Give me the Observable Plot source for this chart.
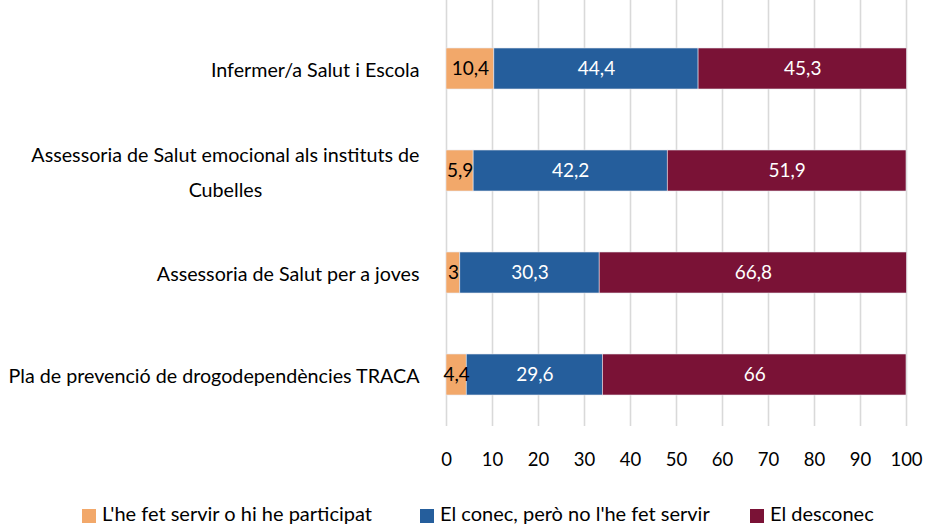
<!DOCTYPE html>
<html><head><meta charset="utf-8">
<script src="https://cdn.jsdelivr.net/npm/d3@7"></script>
<script src="https://cdn.jsdelivr.net/npm/@observablehq/plot@0.6"></script>
<style>
body{margin:0;background:#fff;font-family:Lato,"Open Sans",sans-serif;}
#wrap{position:relative;width:925px;height:527px;overflow:hidden;}
.leg{position:absolute;top:502px;height:22px;line-height:22px;display:flex;align-items:center;font-size:20px;color:#000;white-space:nowrap;}
.sw{width:14px;height:14px;margin-right:6px;margin-top:5px;}
</style></head>
<body><div id="wrap"><div id="chart"></div></div>
<script>
const categories = ["Infermer/a Salut i Escola","Assessoria de Salut emocional als instituts de\nCubelles","Assessoria de Salut per a joves","Pla de prevenció de drogodependències TRACA"];
const series = ["L'he fet servir o hi he participat","El conec, però no l'he fet servir","El desconec"];
const used = [10.4, 5.9, 3, 4.4];
const known = [44.4, 42.2, 30.3, 29.6];
const unknown = [45.3, 51.9, 66.8, 66];
const xTicks = [0,10,20,30,40,50,60,70,80,90,100];
const colors = ["#F2A86A","#255E9C","#7A1236"];
const textColors = ["#000","#fff","#fff"];

const data = [];
[used, known, unknown].forEach((arr, si) => arr.forEach((v, ci) => data.push({cat: categories[ci], series: series[si], si, value: v})));
const fmt = v => String(v).replace(".", ",");

const chart = Plot.plot({
  width: 925, height: 490,
  marginLeft: 446, marginRight: 19, marginTop: 0, marginBottom: 64,
  style: {fontFamily: "Lato, 'Open Sans', sans-serif", fontSize: "18.5px", color: "#000", overflow: "visible"},
  x: {domain: [0, 100], ticks: xTicks, tickSize: 0, tickPadding: 26, label: null, tickFormat: d => d},
  y: {domain: categories, padding: 0.6, paddingOuter: 0.3, insetTop: 16, insetBottom: 0, label: null, axis: null},
  color: {domain: series, range: colors},
  marks: [
    Plot.ruleX(xTicks, {stroke: "#d9d9d9", strokeWidth: 1.6}),
    Plot.barX(data, {x: "value", y: "cat", fill: "series", stroke: "#e8e8ef", strokeWidth: 0.6, order: "si"}),
    Plot.text(data, Plot.stackX({x: "value", y: "cat", z: "series", order: "si", text: d => fmt(d.value), fill: d => textColors[d.si], fontSize: 19})),
    Plot.text(categories, {y: d => d, frameAnchor: "left", dx: -27, dy: -3, textAnchor: "end", text: d => d, fontSize: 19.7, lineHeight: 1.8, fill: "#000"})
  ]
});
document.getElementById("chart").appendChild(chart);

// center the lines of the wrapped label as a block
chart.querySelectorAll("text").forEach(t => {
  const tspans = t.querySelectorAll("tspan");
  if (tspans.length > 1) {
    const w = tspans[0].getComputedTextLength();
    t.setAttribute("text-anchor", "middle");
    const tr = t.getAttribute("transform");
    t.setAttribute("transform", (tr || "") + ` translate(${-w/2},0)`);
  }
});

const legX = [82, 420, 750];
series.forEach((s, i) => {
  const d = document.createElement("div");
  d.className = "leg"; d.style.left = legX[i] + "px";
  d.innerHTML = `<div class="sw" style="background:${colors[i]}"></div><span></span>`;
  d.querySelector("span").textContent = s;
  document.getElementById("wrap").appendChild(d);
});
</script></body></html>
